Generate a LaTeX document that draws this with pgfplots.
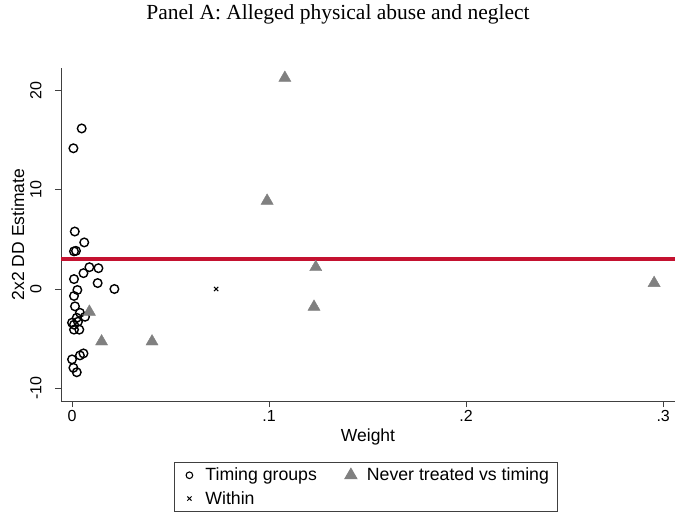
\documentclass[border=0pt]{standalone}
\usepackage{pgfplots}
\pgfplotsset{compat=1.18}
\usepackage{fontspec}
\setmainfont{Liberation Sans}
\newfontfamily\titlefont{Liberation Serif}
\definecolor{redline}{RGB}{196,18,48}
\definecolor{trigray}{RGB}{128,128,128}
\begin{document}
\begin{tikzpicture}
\useasboundingbox (-61pt,-115pt) rectangle (615pt,401pt);
\begin{axis}[
  scale only axis,
  width=614pt, height=333pt,
  xmin=-0.0056, xmax=0.306,
  ymin=-11.3, ymax=22.3,
  axis x line*=bottom, axis y line*=left,
  axis line style={line width=0.9pt, color=black!75},
  tick align=outside,
  major tick length=6pt,
  tick style={line width=0.9pt, color=black!75},
  xtick={0,0.1,0.2,0.3}, xticklabels={0,.1,.2,.3},
  ytick={-10,0,10,20}, yticklabels={-10,0,10,20},
  tick label style={font=\fontsize{16}{18}\selectfont},
  yticklabel style={rotate=90, anchor=south},
  yticklabel shift=10pt,
  xlabel={Weight}, ylabel={2x2 DD Estimate},
  ylabel shift=-1pt,
  label style={font=\fontsize{17.5}{20}\selectfont},
  clip=false,
  legend columns=2,
  legend style={at={(axis description cs:0.497,-0.258)}, anchor=center,
    draw=black!75, line width=0.9pt, font=\fontsize{17.7}{20}\selectfont,
    /tikz/every even column/.append style={column sep=24pt},
    row sep=5pt, inner xsep=7pt, inner ysep=4pt},
  legend cell align=left,
  legend image code/.code={\path[draw=none, fill=none] (0pt,-5pt) rectangle (22pt,5pt); \draw[#1] plot coordinates {(8pt,0pt)};},
]
\addplot[only marks, mark=o, mark size=4.3pt, line width=1.4pt, black,
  legend image post style={mark size=3.3pt, line width=1.1pt}] coordinates {
(0.0049,16.2) (0.0007,14.2) (0.0014,5.8) (0.0062,4.7) (0.0010,3.8) (0.0020,3.85)
(0.0134,2.1) (0.0088,2.2) (0.0058,1.6) (0.0010,1.0) (0.0130,0.6) (0.0215,0.0)
(0.0027,-0.1) (0.0010,-0.7) (0.0015,-1.75) (0.0040,-2.4) (0.0066,-2.8)
(0.0000,-3.4) (0.0010,-3.6) (0.0030,-3.3) (0.0010,-4.1) (0.0037,-4.1) (0.0024,-2.9)
(0.0058,-6.5) (0.0040,-6.7) (0.0000,-7.1) (0.0007,-7.95) (0.0024,-8.4)
};
\addlegendentry{Timing groups}
\addplot[only marks, mark=triangle*, mark size=7pt, color=trigray, fill=trigray] coordinates {
(0.108,21.3) (0.099,8.9) (0.1237,2.2) (0.1228,-1.8) (0.2954,0.6)
(0.0088,-2.3) (0.0150,-5.3) (0.0406,-5.3)
};
\addlegendentry{Never treated vs timing}
\addplot[only marks, mark=x, mark size=3pt, line width=1pt, black] coordinates {(0.0731,0.0)};
\addlegendentry{Within}
\addplot[forget plot, redline, line width=3.8pt] coordinates {(-0.0056,3.02) (0.306,3.02)};
\end{axis}
\node[font=\titlefont\fontsize{21.5}{24}\selectfont] at (277pt,387pt) {Panel A: Alleged physical abuse and neglect};
\end{tikzpicture}
\end{document}
